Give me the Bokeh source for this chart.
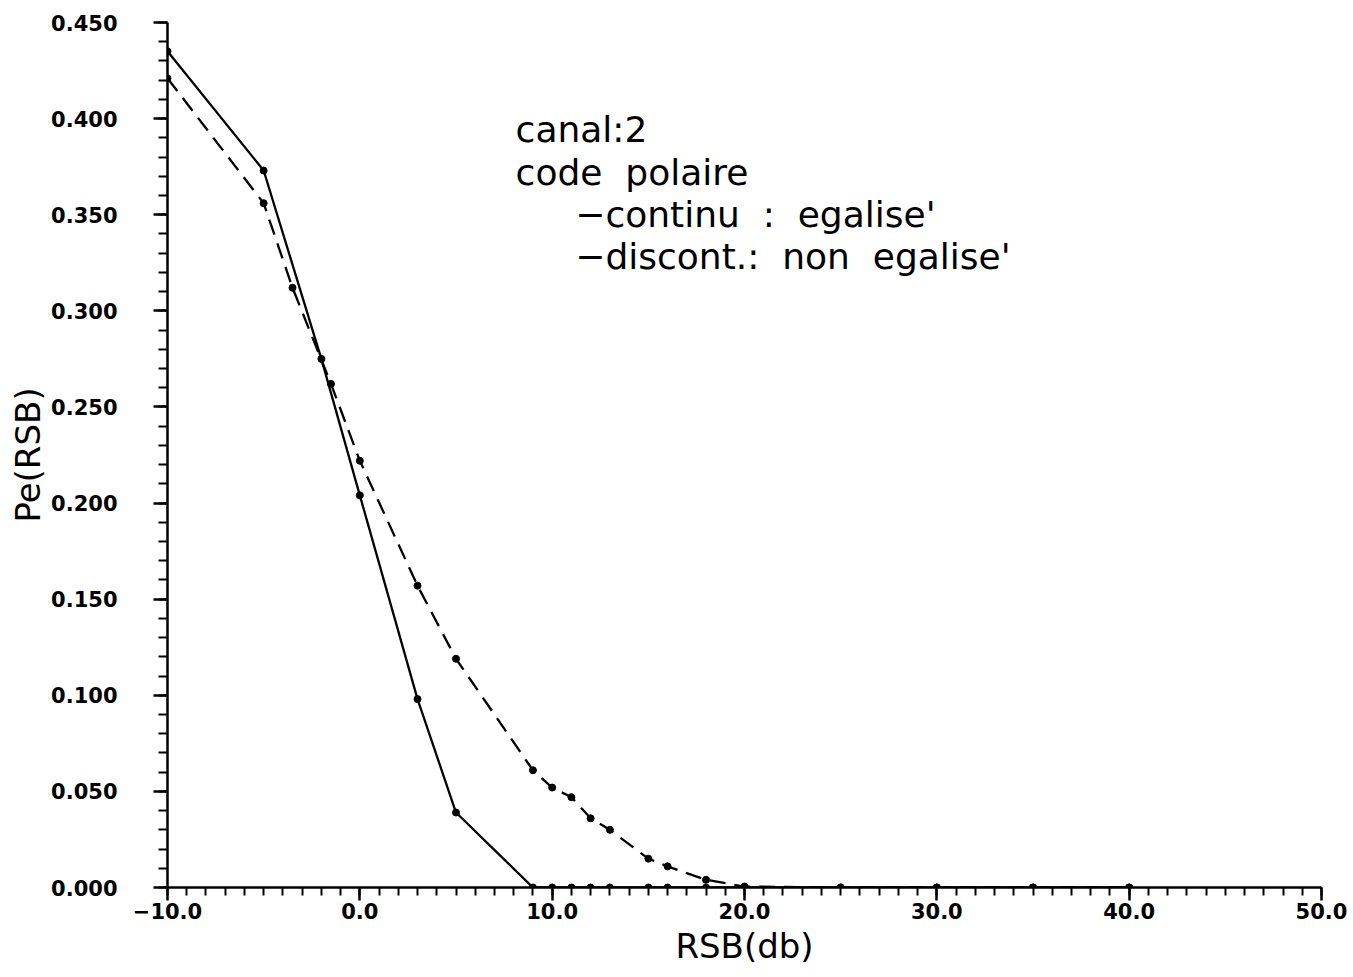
from bokeh.plotting import figure
from bokeh.models import Range1d, SingleIntervalTicker, Label, NumeralTickFormatter
from bokeh.embed import file_html
from bokeh.resources import INLINE

# ---- data ----
x_egalise = [-10, -5, -2, 0, 3, 5, 9, 10, 11, 12, 13, 15, 16, 18, 20, 25, 30, 35, 40]
y_egalise = [0.435, 0.373, 0.275, 0.204, 0.098, 0.039, 0.0, 0.0, 0.0, 0.0, 0.0,
             0.0, 0.0, 0.0, 0.0, 0.0, 0.0, 0.0, 0.0]

x_non_egalise = [-10, -5, -3.5, -1.5, 0, 3, 5, 9, 10, 11, 12, 13, 15, 16, 18, 20, 25, 30, 35, 40]
y_non_egalise = [0.421, 0.356, 0.312, 0.262, 0.222, 0.157, 0.119, 0.061, 0.052, 0.047,
                 0.036, 0.030, 0.015, 0.011, 0.004, 0.0005, 0.0, 0.0, 0.0, 0.0]

x_ticks = [-10, 0, 10, 20, 30, 40, 50]
x_tick_labels = ["\u221210.0", "0.0", "10.0", "20.0", "30.0", "40.0", "50.0"]
y_tick_format = "0.000"

NB = "\u00a0"
note_lines = ["canal:2",
              "code" + NB + NB + "polaire",
              "\u2212continu" + NB + NB + ":" + NB + NB + "egalise'",
              "\u2212discont.:" + NB + NB + "non" + NB + NB + "egalise'"]

FONT = "DejaVu Sans"

p = figure(width=1353, height=977, output_backend="svg", toolbar_location=None,
           x_range=Range1d(-10, 50), y_range=Range1d(0, 0.45),
           min_border_left=167, min_border_right=32, min_border_top=22,
           min_border_bottom=90)
p.outline_line_color = None
p.xgrid.visible = False
p.ygrid.visible = False
p.background_fill_color = "white"
p.border_fill_color = "white"

p.xaxis.ticker = SingleIntervalTicker(interval=10, num_minor_ticks=10)
p.yaxis.ticker = SingleIntervalTicker(interval=0.05, num_minor_ticks=5)
p.xaxis.major_label_overrides = {t: l for t, l in zip(x_ticks, x_tick_labels)}
p.yaxis.formatter = NumeralTickFormatter(format=y_tick_format)

for ax in (p.xaxis[0], p.yaxis[0]):
    ax.axis_line_width = 2.5
    ax.axis_line_color = "black"
    ax.major_tick_line_width = 2.5
    ax.minor_tick_line_width = 2
    ax.major_tick_line_color = "black"
    ax.minor_tick_line_color = "black"
    ax.major_tick_in = 0
    ax.minor_tick_in = 0
    ax.major_label_text_font = FONT
    ax.major_label_text_font_style = "bold"
    ax.major_label_text_font_size = "21px"
    ax.major_label_text_color = "black"
    ax.axis_label_text_font = FONT
    ax.axis_label_text_font_style = "normal"
    ax.axis_label_text_font_size = "34px"
    ax.axis_label_text_color = "black"

p.xaxis.major_tick_out = 13
p.xaxis.minor_tick_out = 8
p.xaxis.major_label_standoff = 2
p.xaxis.axis_label = "RSB(db)"
p.xaxis.axis_label_standoff = 4

p.yaxis.major_tick_out = 14
p.yaxis.minor_tick_out = 9
p.yaxis.major_label_standoff = 36
p.yaxis.axis_label = "Pe(RSB)"
p.yaxis.axis_label_standoff = 0

# curves
p.line(x_egalise, y_egalise, line_color="black", line_width=2.3)
p.scatter(x_egalise, y_egalise, size=7, color="black")
p.line(x_non_egalise, y_non_egalise, line_color="black", line_width=2.3, line_dash="16 9")
p.scatter(x_non_egalise, y_non_egalise, size=7, color="black")

# annotation block
note_x = [8.1, 8.1, 11.2, 11.2]
note_y = [0.3942, 0.3720, 0.3503, 0.3283]
for tx, ty, t in zip(note_x, note_y, note_lines):
    p.add_layout(Label(x=tx, y=ty, text=t, text_font=FONT, text_font_size="36px",
                       text_color="black", text_baseline="alphabetic", text_align="left"))

open("out.html", "w").write(file_html(p, INLINE))
